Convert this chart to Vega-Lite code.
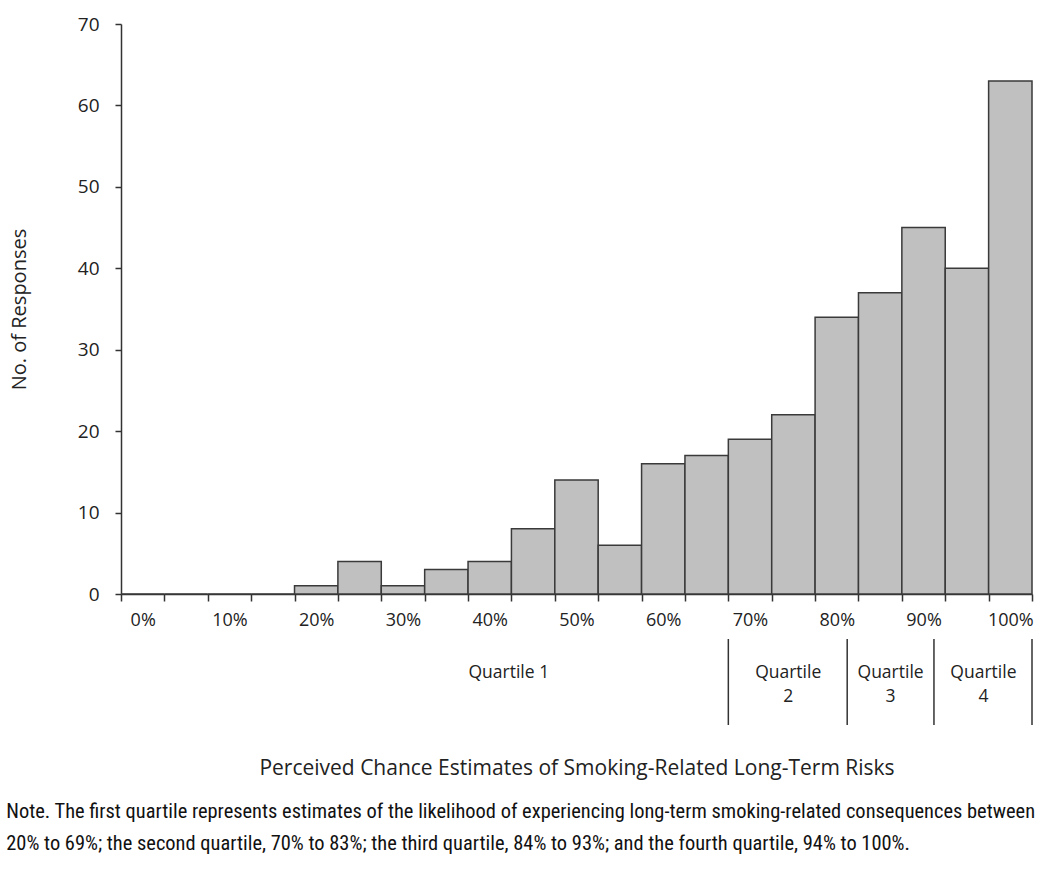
{
  "$schema": "https://vega.github.io/schema/vega-lite/v6.json",
  "background": "white",
  "padding": {"left": 6, "top": 15, "right": 5, "bottom": 5},
  "config": {
    "view": {"stroke": null},
    "axis": {"grid": false, "domainColor": "#333333", "tickColor": "#333333", "labelFont": "Open Sans", "titleFont": "Open Sans", "labelColor": "#222222", "titleColor": "#222222", "titleFontWeight": "normal"}
  },
  "datasets": {
    "bins": [
      {"bin": 0, "lo": -2.5, "hi": 2.5, "count": 0},
      {"bin": 5, "lo": 2.5, "hi": 7.5, "count": 0},
      {"bin": 10, "lo": 7.5, "hi": 12.5, "count": 0},
      {"bin": 15, "lo": 12.5, "hi": 17.5, "count": 0},
      {"bin": 20, "lo": 17.5, "hi": 22.5, "count": 1},
      {"bin": 25, "lo": 22.5, "hi": 27.5, "count": 4},
      {"bin": 30, "lo": 27.5, "hi": 32.5, "count": 1},
      {"bin": 35, "lo": 32.5, "hi": 37.5, "count": 3},
      {"bin": 40, "lo": 37.5, "hi": 42.5, "count": 4},
      {"bin": 45, "lo": 42.5, "hi": 47.5, "count": 8},
      {"bin": 50, "lo": 47.5, "hi": 52.5, "count": 14},
      {"bin": 55, "lo": 52.5, "hi": 57.5, "count": 6},
      {"bin": 60, "lo": 57.5, "hi": 62.5, "count": 16},
      {"bin": 65, "lo": 62.5, "hi": 67.5, "count": 17},
      {"bin": 70, "lo": 67.5, "hi": 72.5, "count": 19},
      {"bin": 75, "lo": 72.5, "hi": 77.5, "count": 22},
      {"bin": 80, "lo": 77.5, "hi": 82.5, "count": 34},
      {"bin": 85, "lo": 82.5, "hi": 87.5, "count": 37},
      {"bin": 90, "lo": 87.5, "hi": 92.5, "count": 45},
      {"bin": 95, "lo": 92.5, "hi": 97.5, "count": 40},
      {"bin": 100, "lo": 97.5, "hi": 102.5, "count": 63}
    ],
    "edges": [
      {"edge": 67.5},
      {"edge": 81.2},
      {"edge": 91.2},
      {"edge": 102.5}
    ],
    "quartiles": [
      {"label": "Quartile 1", "mid": 42.2},
      {"label": "Quartile\n2", "mid": 74.4},
      {"label": "Quartile\n3", "mid": 86.2},
      {"label": "Quartile\n4", "mid": 96.9}
    ]
  },
  "title": {
    "text": [
      "Note. The first quartile represents estimates of the likelihood of experiencing long-term smoking-related consequences between",
      "20% to 69%; the second quartile, 70% to 83%; the third quartile, 84% to 93%; and the fourth quartile, 94% to 100%."
    ],
    "orient": "bottom",
    "anchor": "start",
    "frame": "bounds",
    "font": "Liberation Sans Narrow, Roboto Condensed, DejaVu Sans Condensed, sans-serif",
    "fontSize": 20.45,
    "fontWeight": "normal",
    "color": "#111111",
    "lineHeight": 32,
    "offset": 24,
    "dx": -3
  },
  "spacing": 9,
  "vconcat": [
    {
      "width": 911,
      "height": 570,
      "data": {"name": "bins"},
      "mark": {"type": "rect", "fill": "#c0c0c0", "stroke": "#3a3a3a", "strokeWidth": 1.5},
      "encoding": {
        "x": {
          "field": "lo",
          "type": "quantitative",
          "scale": {"domain": [-2.5, 102.5], "nice": false, "zero": false},
          "axis": {
            "title": null,
            "values": [-2.5, 2.5, 7.5, 12.5, 17.5, 22.5, 27.5, 32.5, 37.5, 42.5, 47.5, 52.5, 57.5, 62.5, 67.5, 72.5, 77.5, 82.5, 87.5, 92.5, 97.5, 102.5, 0, 10, 20, 30, 40, 50, 60, 70, 80, 90, 100],
            "labelExpr": "datum.value % 10 == 0 ? datum.value + '%' : ''",
            "tickOpacity": {"condition": {"test": "datum.value % 10 == 0", "value": 0}, "value": 1},
            "tickSize": 7,
            "tickWidth": 1.5,
            "domainWidth": 1.5,
            "labelPadding": 10,
            "labelFontSize": 18,
            "labelOverlap": false,
            "labelFlush": false
          }
        },
        "x2": {"field": "hi"},
        "y": {
          "field": "count",
          "type": "quantitative",
          "scale": {"domain": [0, 70], "nice": false},
          "axis": {
            "title": "No. of Responses",
            "values": [0, 10, 20, 30, 40, 50, 60, 70],
            "tickSize": 6,
            "tickWidth": 1.5,
            "domainWidth": 1.5,
            "labelPadding": 16,
            "labelFontSize": 19,
            "titleFontSize": 20,
            "titlePadding": 48
          }
        },
        "y2": {"datum": 0}
      }
    },
    {
      "width": 911,
      "height": 86,
      "layer": [
        {
          "data": {"name": "edges"},
          "mark": {"type": "rule", "color": "#333333", "strokeWidth": 1.5},
          "encoding": {
            "x": {
              "field": "edge",
              "type": "quantitative",
              "scale": {"domain": [-2.5, 102.5], "nice": false, "zero": false},
              "axis": {
                "domain": false,
                "ticks": false,
                "labels": false,
                "title": "Perceived Chance Estimates of Smoking-Related Long-Term Risks",
                "titleFontSize": 21,
                "titlePadding": 32
              }
            }
          }
        },
        {
          "data": {"name": "quartiles"},
          "mark": {"type": "text", "lineBreak": "\n", "font": "Open Sans", "fontSize": 17.5, "baseline": "middle", "lineHeight": 24, "dy": -9, "color": "#222222"},
          "encoding": {
            "x": {"field": "mid", "type": "quantitative"},
            "text": {"field": "label"}
          }
        }
      ]
    }
  ]
}
